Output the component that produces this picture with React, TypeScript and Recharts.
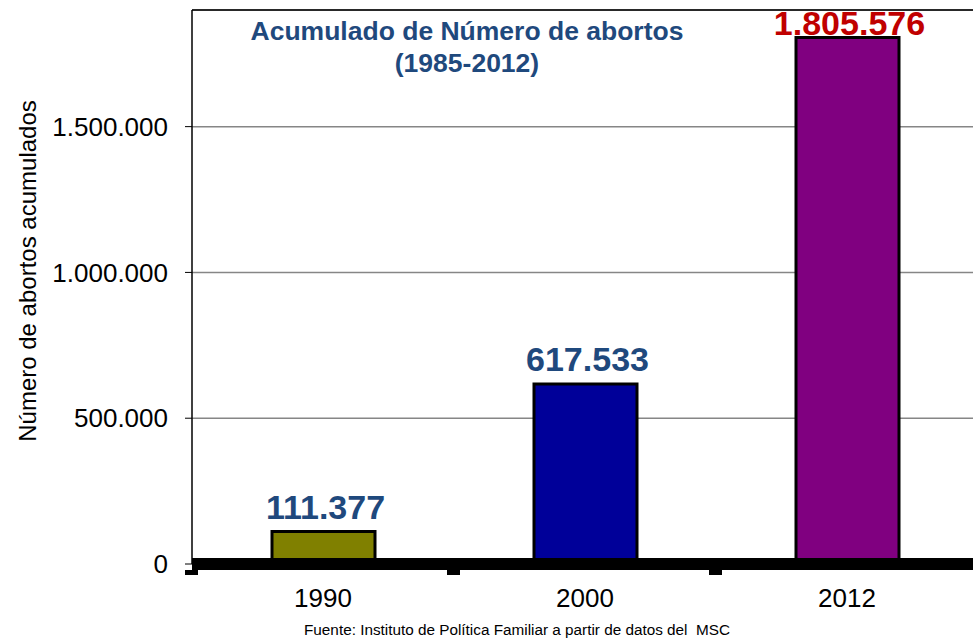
import React from 'react';
import { BarChart, Bar, XAxis, YAxis, CartesianGrid, Cell, LabelList, ReferenceLine } from 'recharts';

const years = ['1990', '2000', '2012'];
const abortos = [111377, 617533, 1805576];
const barColors = ['#808000', '#000099', '#800080'];
const labelColors = ['#1F497D', '#1F497D', '#C00000'];
const yTicks = [0, 500000, 1000000, 1500000];
const yMax = 1900000;
const titleLines = ['Acumulado de Número de abortos', '(1985-2012)'];
const yLabel = 'Número de abortos acumulados';
const sourceText = 'Fuente: Instituto de Política Familiar a partir de datos del  MSC';

const data = years.map((y, i) => ({ year: y, value: abortos[i] }));

const FONT = '"Liberation Sans", Arial, Helvetica, sans-serif';

const fmt = (v: number) => String(Math.round(v)).replace(/\B(?=(\d{3})+(?!\d))/g, '.');

const XTick = (props: any) => {
  const { x, y, payload } = props;
  const half = payload && typeof payload.offset === 'number' ? payload.offset : 131;
  return (
    <g>
      <rect x={x - half - 7} y={y - 2} width={13} height={5} fill="#000" />
      <text x={x} y={y + 35} textAnchor="middle" fontSize={26} fill="#000" fontFamily={FONT}>
        {payload.value}
      </text>
    </g>
  );
};

const renderLabel = (props: any) => {
  const { x, y, width, value, index } = props;
  const cx = Number(x) + Number(width) / 2 + 2;
  const baseline = Math.max(Number(y) - 13, 35);
  return (
    <text x={cx} y={baseline} textAnchor="middle" fontSize={34} fontWeight="bold" fill={labelColors[index]} fontFamily={FONT}>
      {fmt(Number(value))}
    </text>
  );
};

export default function App() {
  return (
    <div style={{ position: 'absolute', left: 0, top: 0, width: 973, height: 639, overflow: 'hidden', background: '#fff', fontFamily: FONT }}>
      <BarChart width={990} height={639} data={data} margin={{ top: 10, right: 12, bottom: 0, left: 0 }} barSize={103}>
        <CartesianGrid vertical={false} stroke="#868686" strokeWidth={1.5} />
        <ReferenceLine y={yMax} stroke="#000" strokeWidth={1.5} />
        <YAxis
          width={192}
          domain={[0, yMax]}
          ticks={yTicks}
          tickFormatter={fmt}
          axisLine={{ stroke: '#000', strokeWidth: 1.5 }}
          tickLine={{ stroke: '#000', strokeWidth: 1 }}
          tickSize={7}
          tickMargin={17}
          tick={{ fontSize: 26, fill: '#000', fontFamily: FONT }}
          allowDataOverflow
        />
        <Bar dataKey="value" stroke="#000" strokeWidth={3} isAnimationActive={false}>
          {data.map((d, i) => (
            <Cell key={d.year} fill={barColors[i]} />
          ))}
          <LabelList dataKey="value" content={renderLabel} />
        </Bar>
        <XAxis
          dataKey="year"
          height={75}
          interval={0}
          axisLine={{ stroke: '#000', strokeWidth: 12 }}
          tickLine={false}
          tickSize={6}
          tickMargin={2}
          tick={<XTick />}
        />
      </BarChart>
      <svg width={973} height={639} style={{ position: 'absolute', left: 0, top: 0, pointerEvents: 'none' }}>
        <text x={467} y={40} textAnchor="middle" fontSize={26.5} fontWeight="bold" fill="#1F497D" fontFamily={FONT}>
          {titleLines[0]}
        </text>
        <text x={467} y={72} textAnchor="middle" fontSize={26.5} fontWeight="bold" fill="#1F497D" fontFamily={FONT}>
          {titleLines[1]}
        </text>
        <text x={36} y={271} transform="rotate(-90 36 271)" textAnchor="middle" fontSize={24} fill="#000" fontFamily={FONT}>
          {yLabel}
        </text>
        <text x={517} y={635} textAnchor="middle" fontSize={15.3} fill="#000" fontFamily={FONT} style={{ whiteSpace: 'pre' }}>
          {sourceText}
        </text>
      </svg>
    </div>
  );
}
